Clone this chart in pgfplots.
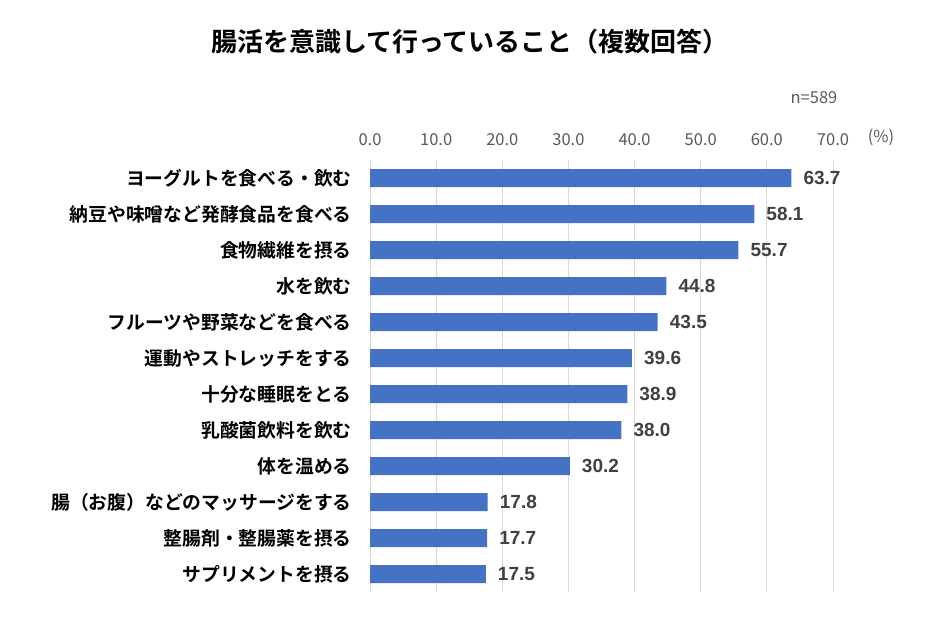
\documentclass[border=0pt]{standalone}
\usepackage{pgfplots}
\pgfplotsset{compat=1.18}
\usepackage{fontspec}
\setmainfont{Noto Sans CJK JP}[BoldFont={Noto Sans CJK JP Bold}]
\newfontfamily\numfont{Liberation Sans}
\definecolor{barblue}{HTML}{4472C4}
\definecolor{gridgray}{HTML}{D9D9D9}
\definecolor{tickgray}{HTML}{595959}
\definecolor{valgray}{HTML}{404040}

\begin{document}
\begin{tikzpicture}
\path (0pt,0pt) rectangle (940pt,624pt);
\node[font=\bfseries\fontsize{26}{30}\selectfont] at (470pt,582pt) {腸活を意識して行っていること（複数回答）};
\node[font=\fontsize{16.5}{19}\selectfont, text=tickgray] at (814pt,526pt) {n=589};
\node[font=\fontsize{16.5}{19}\selectfont, text=tickgray] at (881pt,487pt) {(\%)};
\begin{axis}[
    at={(370pt,32pt)}, anchor=south west,
    scale only axis,
    width=463pt, height=432pt,
    xbar, bar width=18pt,
    xmin=0, xmax=70,
    ymin=-0.5, ymax=11.5,
    y dir=reverse,
    xtick={0,10,...,70},
    ytick={0,...,11},
    yticklabels={ヨーグルトを食べる・飲む,納豆や味噌など発酵食品を食べる,食物繊維を摂る,水を飲む,フルーツや野菜などを食べる,運動やストレッチをする,十分な睡眠をとる,乳酸菌飲料を飲む,体を温める,腸（お腹）などのマッサージをする,整腸剤・整腸薬を摂る,サプリメントを摂る},
    xticklabel pos=upper,
    xticklabel style={font=\fontsize{16.5}{19}\selectfont, text=tickgray, anchor=base, yshift=15pt,
        /pgf/number format/fixed, /pgf/number format/precision=1, /pgf/number format/fixed zerofill},
    /pgf/number format/assume math mode=true,
    yticklabel style={font=\bfseries\fontsize{18.8}{21}\selectfont, anchor=east, inner sep=0pt, xshift=-18pt},
    major tick length=0pt,
    axis line style={draw=none},
    xmajorgrids=true,
    grid style={gridgray, line width=1pt},
    clip=false,
    nodes near coords,
    nodes near coords style={font=\numfont\bfseries\fontsize{19}{21}\selectfont, text=valgray, anchor=west, inner sep=0pt, xshift=12pt,
        /pgf/number format/fixed, /pgf/number format/precision=1, /pgf/number format/fixed zerofill, /pgf/number format/assume math mode=true},
]
\addplot[fill=barblue, draw=none] coordinates {
    (63.7,0)
    (58.1,1)
    (55.7,2)
    (44.8,3)
    (43.5,4)
    (39.6,5)
    (38.9,6)
    (38.0,7)
    (30.2,8)
    (17.8,9)
    (17.7,10)
    (17.5,11)
};
\end{axis}
\end{tikzpicture}
\end{document}
